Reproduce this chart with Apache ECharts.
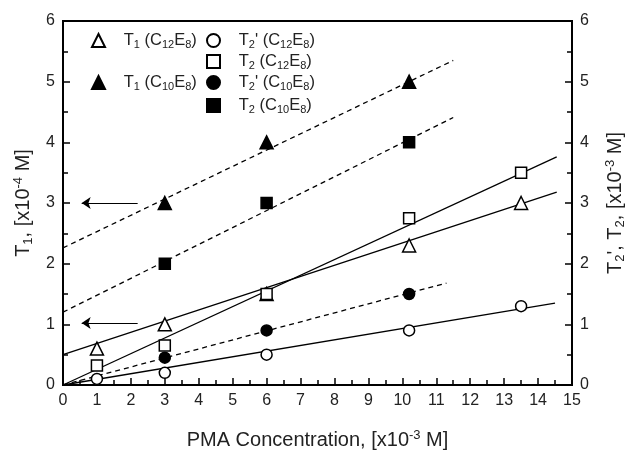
<!DOCTYPE html>
<html>
<head>
<meta charset="utf-8">
<script src="https://cdn.jsdelivr.net/npm/echarts@6/dist/echarts.min.js"></script>
<style>
  html, body { margin: 0; padding: 0; background: #fff; }
  #chart { width: 635px; height: 456px; }
</style>
</head>
<body>
<div id="chart"></div>
<script>
// PMA concentration [x10^-3 M]
const conc = [1, 3, 6, 10.2, 13.5];
const concC10 = [3, 6, 10.2];
// measured values
const t1C12 = [0.6, 1.0, 1.5, 2.3, 3.0];
const t2pC12 = [0.1, 0.2, 0.5, 0.9, 1.3];
const t2C12 = [0.32, 0.65, 1.5, 2.75, 3.5];
const t1C10 = [3.0, 4.0, 5.0];
const t2pC10 = [0.45, 0.9, 1.5];
const t2C10 = [2.0, 3.0, 4.0];
// fitted lines (start, end)
const fitT1C12 = [[0, 0.5], [14.55, 3.18]];
const fitT2C12 = [[0, 0], [14.55, 3.76]];
const fitT2pC12 = [[0, 0], [14.5, 1.35]];
const fitT1C10 = [[0, 2.26], [11.5, 5.35]];
const fitT2C10 = [[0, 1.2], [11.5, 4.41]];
const fitT2pC10 = [[0, 0], [11.3, 1.68]];
// arrows pointing at the left axis
const arrowY = [3.0, 1.02];
const arrowX = [2.2, 0.55];
const xTicks = [0, 15, 1];
const yTicks = [0, 6, 1];

const font = 'Liberation Sans, Arial, sans-serif';
const rich = {
  n: { fontSize: 16.5, fontFamily: font, color: '#222' },
  s: { fontSize: 11, fontFamily: font, color: '#222', padding: [8, 0, 0, 0] },
  p: { fontSize: 11, fontFamily: font, color: '#222', padding: [0, 0, 8, 0] }
};
const axRich = {
  n: { fontSize: 20, fontFamily: font, color: '#222' },
  s: { fontSize: 13, fontFamily: font, color: '#222', padding: [10, 0, 0, 0] },
  p: { fontSize: 13, fontFamily: font, color: '#222', padding: [0, 0, 10, 0] }
};

const labels = {
  'T1 (C12E8)': '{n|   T}{s|1}{n| (C}{s|12}{n|E}{s|8}{n|)}',
  "T2' (C12E8)": "{n|   T}{s|2}{n|' (C}{s|12}{n|E}{s|8}{n|)}",
  'T2 (C12E8)': '{n|   T}{s|2}{n| (C}{s|12}{n|E}{s|8}{n|)}',
  'T1 (C10E8)': '{n|   T}{s|1}{n| (C}{s|10}{n|E}{s|8}{n|)}',
  "T2' (C10E8)": "{n|   T}{s|2}{n|' (C}{s|10}{n|E}{s|8}{n|)}",
  'T2 (C10E8)': '{n|   T}{s|2}{n| (C}{s|10}{n|E}{s|8}{n|)}'
};

const legendPos = [
  ['T1 (C12E8)', 91, 32],
  ["T2' (C12E8)", 206, 32],
  ['T2 (C12E8)', 206, 53],
  ['T1 (C10E8)', 91, 74],
  ["T2' (C10E8)", 206, 74],
  ['T2 (C10E8)', 206, 97]
];

function pts(xs, ys) {
  return xs.map((x, i) => [x, ys[i]]);
}

function scatter(name, xs, ys, symbol, filled, yIdx) {
  return {
    name: name,
    type: 'scatter',
    yAxisIndex: yIdx,
    data: pts(xs, ys),
    symbol: symbol,
    symbolSize: symbol === 'triangle' ? 13 : 11,
    z: 5,
    itemStyle: {
      color: filled ? '#000' : '#fff',
      borderColor: '#000',
      borderWidth: 1.5,
      opacity: 1
    }
  };
}

function fit(data, dashed) {
  return {
    type: 'line',
    data: data,
    symbol: 'none',
    silent: true,
    z: 2,
    lineStyle: { color: '#000', width: 1.3, type: dashed ? [5, 4] : 'solid' }
  };
}

const myChart = echarts.init(document.getElementById('chart'));

const arrowLine = fit(fitT1C12, false);
arrowLine.markLine = {
  silent: true,
  symbol: ['none', 'arrow'],
  symbolSize: 9,
  label: { show: false },
  lineStyle: { color: '#000', width: 1.2, type: 'solid' },
  data: arrowY.map(y => [{ coord: [arrowX[0], y] }, { coord: [arrowX[1], y] }])
};

const yAxisBase = {
  type: 'value',
  min: yTicks[0],
  max: yTicks[1],
  interval: yTicks[2],
  splitLine: { show: false },
  axisLine: { show: true, lineStyle: { color: '#000', width: 2 } },
  axisTick: { show: true, inside: true, length: 7, lineStyle: { color: '#000', width: 1.5 } },
  minorTick: { show: true, splitNumber: 2, length: 5, lineStyle: { color: '#000', width: 1.5 } },
  axisLabel: { fontSize: 16, fontFamily: font, color: '#222', margin: 8 },
  nameLocation: 'middle',
  nameRotate: 90
};

let option = {
  animation: false,
  backgroundColor: '#fff',
  grid: {
    left: 63, right: 60, top: 21, bottom: 71,
    show: true, borderColor: '#000', borderWidth: 2
  },
  legend: legendPos.map(p => ({
    data: [p[0]],
    left: p[1],
    top: p[2],
    padding: 0,
    itemWidth: 13,
    itemHeight: 13,
    selectedMode: false,
    textStyle: { rich: rich },
    formatter: name => labels[name]
  })),
  xAxis: {
    type: 'value',
    min: xTicks[0],
    max: xTicks[1],
    interval: xTicks[2],
    splitLine: { show: false },
    axisLine: { show: true, onZero: false, lineStyle: { color: '#000', width: 2 } },
    axisTick: { show: true, inside: true, length: 7, lineStyle: { color: '#000', width: 1.5 } },
    minorTick: { show: true, splitNumber: 2, length: 5, lineStyle: { color: '#000', width: 1.5 } },
    axisLabel: { fontSize: 16, fontFamily: font, color: '#222', margin: 8 },
    name: '{n|PMA Concentration, [x10}{p|-3}{n| M]}',
    nameLocation: 'middle',
    nameGap: 44,
    nameTextStyle: { rich: axRich }
  },
  yAxis: [
    Object.assign({}, yAxisBase, {
      position: 'left',
      name: '{n|T}{s|1}{n|, [x10}{p|-4}{n| M]}',
      nameGap: 27,
      nameTextStyle: { rich: axRich }
    }),
    Object.assign({}, yAxisBase, {
      position: 'right',
      name: "{n|T}{s|2}{n|', T}{s|2}{n|, [x10}{p|-3}{n| M]}",
      nameGap: 32,
      nameTextStyle: { rich: axRich }
    })
  ],
  series: [
    arrowLine,
    fit(fitT2C12, false),
    fit(fitT2pC12, false),
    fit(fitT1C10, true),
    fit(fitT2C10, true),
    fit(fitT2pC10, true),
    scatter('T1 (C12E8)', conc, t1C12, 'triangle', false, 0),
    scatter("T2' (C12E8)", conc, t2pC12, 'circle', false, 1),
    scatter('T2 (C12E8)', conc, t2C12, 'rect', false, 1),
    scatter('T1 (C10E8)', concC10, t1C10, 'triangle', true, 0),
    scatter("T2' (C10E8)", concC10, t2pC10, 'circle', true, 1),
    scatter('T2 (C10E8)', concC10, t2C10, 'rect', true, 1)
  ]
};
myChart.setOption(option);
window.onresize = myChart.resize;
</script>
</body>
</html>
